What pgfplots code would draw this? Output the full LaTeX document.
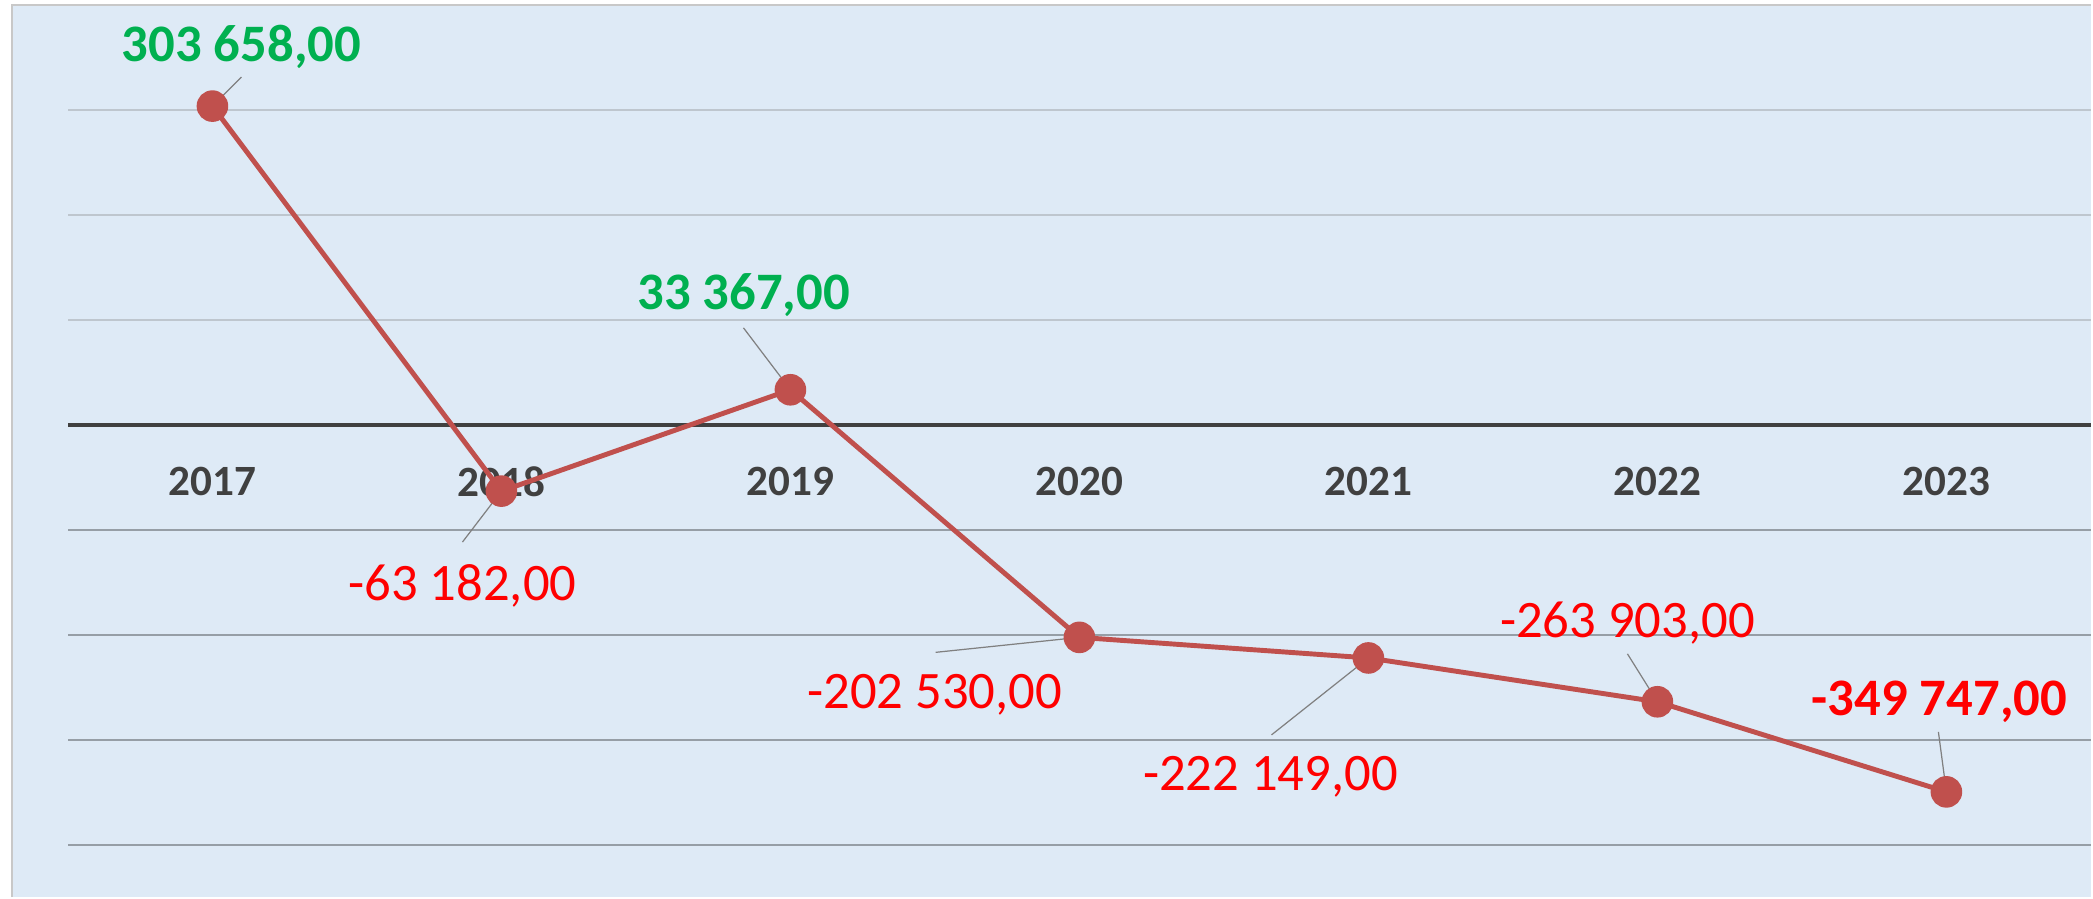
\documentclass[border=0pt]{standalone}
\usepackage{pgfplots}
\pgfplotsset{compat=1.18}
\usepackage{pgfplotstable}
\usepackage{fontspec}
\setmainfont{Carlito}

\definecolor{bgblue}{RGB}{222,234,246}
\definecolor{lineRed}{RGB}{192,80,77}
\definecolor{zeroGray}{RGB}{64,64,64}
\definecolor{gridLight}{RGB}{190,198,206}
\definecolor{gridDark}{RGB}{150,158,166}
\definecolor{leaderGray}{RGB}{128,128,128}
\definecolor{frameGray}{RGB}{200,200,200}
\definecolor{posGreen}{RGB}{0,176,80}
\definecolor{negRed}{RGB}{255,0,0}

% year index, result
\pgfplotstableread{
x y
0 303658
1 -63182
2 33367
3 -202530
4 -222149
5 -263903
6 -349747
}\result

% dx dy: label centre, lx ly: end of leader line (cm, from the point)
\pgfplotstableread{
x y dx dy lx ly
0 303658 0.29 0.59 0.29 0.29
2 33367 -0.47 0.95 -0.47 0.62
}\greenlabels
\pgfplotstableread{
x y dx dy lx ly
1 -63182 -0.39 -0.95 -0.39 -0.51
3 -202530 -1.45 -0.57 -1.44 -0.15
4 -222149 -0.98 -1.19 -0.97 -0.77
5 -263903 -0.30 0.79 -0.30 0.48
}\redlabels
\pgfplotstableread{
x y dx dy lx ly
6 -349747 -0.07 0.90 -0.08 0.60
}\boldredlabels

\pgfplotsset{
  datalabel/.style={
    draw=none, mark=none,
    visualization depends on={\thisrow{dx} \as \labdx},
    visualization depends on={\thisrow{dy} \as \labdy},
    nodes near coords,
    every node near coord/.append style={anchor=center, inner sep=0pt,
      xshift=\labdx cm, yshift=\labdy cm, #1},
  },
  leader/.style={leaderGray, line width=0.35pt,
    quiver={u=\thisrow{lx}*0.34568, v=\thisrow{ly}*95185}},
}

\begin{document}
\begin{tikzpicture}
\begin{axis}[
  scale only axis,
  width=20.25cm, height=8.93cm,
  xmin=-0.5, xmax=6.5,
  ymin=-450000, ymax=400000,
  clip=false,
  axis x line=middle,
  axis y line=left,
  x axis line style={-, draw=zeroGray, line width=1.2pt},
  y axis line style={draw=none},
  major tick length=0pt,
  hide obscured x ticks=false,
  xtick={0,...,6},
  xticklabels={2017,2018,2019,2020,2021,2022,2023},
  xticklabel style={font=\fontsize{12.3}{14}\selectfont\bfseries, text=zeroGray,
    anchor=center, yshift=-0.57cm},
  scaled y ticks=false,
  ytick={100000,200000,300000},
  yticklabels={},
  ymajorgrids,
  grid style={gridLight, line width=0.6pt},
  extra y ticks={-400000,-300000,-200000,-100000},
  extra y tick labels={},
  extra y tick style={grid style={gridDark, line width=0.6pt}},
  axis background/.style={fill=bgblue},
  /pgf/number format/fixed,
  /pgf/number format/fixed zerofill,
  /pgf/number format/precision=2,
  /pgf/number format/use comma,
  /pgf/number format/1000 sep={\ },
  /pgf/number format/assume math mode=true,
]
\fill[bgblue] (axis description cs:-0.02765,0) rectangle (axis description cs:0,1);
\draw[frameGray, line width=0.6pt] (axis description cs:-0.02765,0)
  -- (axis description cs:-0.02765,1) -- (axis description cs:1,1);
\path (axis description cs:-0.03358,0) -- (axis description cs:1,1.0056);

\addplot[lineRed, line width=1.4pt, mark=*, mark size=3.8pt,
  mark options={fill=lineRed, draw=none}] table {\result};

\addplot[leader] table {\greenlabels};
\addplot[leader] table {\redlabels};
\addplot[leader] table {\boldredlabels};

\addplot[datalabel={font=\fontsize{15}{18}\selectfont\bfseries, text=posGreen}] table {\greenlabels};
\addplot[datalabel={font=\fontsize{15}{18}\selectfont, text=negRed}] table {\redlabels};
\addplot[datalabel={font=\fontsize{15}{18}\selectfont\bfseries, text=negRed}] table {\boldredlabels};
\end{axis}
\end{tikzpicture}
\end{document}
